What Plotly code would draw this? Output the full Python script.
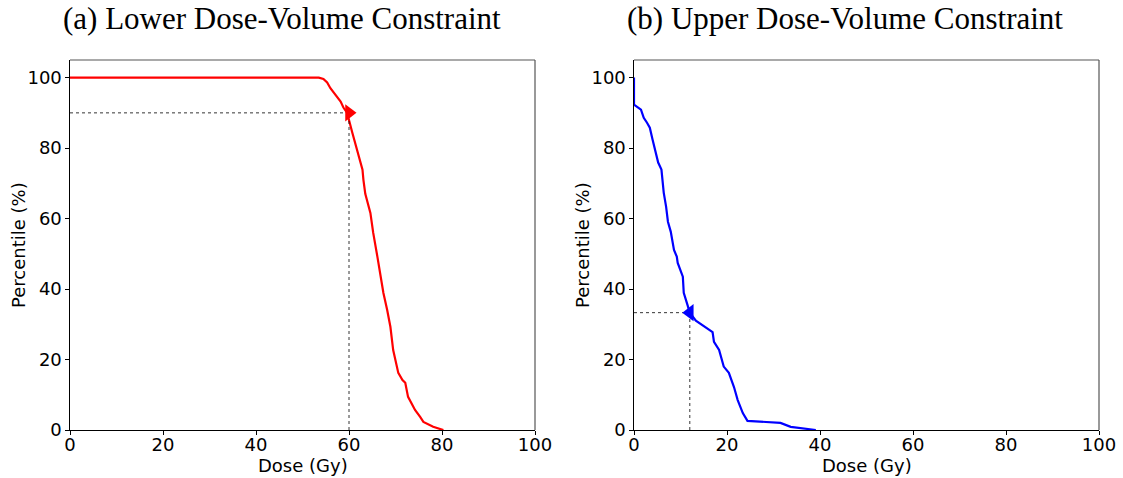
import plotly.graph_objects as go
from plotly.subplots import make_subplots

# Lower constraint DVH (red)
lower_dose = [0, 53.5, 54.5, 55.3, 56.0, 57.1, 58.2, 58.8, 59.6, 60.7, 61.8, 62.9, 63.1, 63.5, 64.6, 65.2,
              66.1, 66.7, 67.4, 68.2, 68.9, 69.5, 70.6, 71.5, 72.1, 72.7, 74.2, 75.3, 76.0, 78.1, 80.3]
lower_pct = [100, 100, 99.6, 98.6, 97.0, 95.2, 93.2, 91.5, 90.0, 84.4, 79.5, 73.9, 71.0, 67.0, 61.6, 56.0,
             49.2, 44.6, 38.9, 34.1, 29.3, 22.7, 16.2, 14.2, 13.4, 9.4, 5.7, 3.7, 2.3, 0.9, 0]

# Upper constraint DVH (blue)
upper_dose = [0, 0, 1.5, 2.1, 2.8, 3.4, 4.0, 4.7, 5.2, 5.9, 6.4, 6.9, 7.3, 7.9, 8.6, 9.2, 9.4,
              10.5, 10.7, 11.5, 12.0, 13.3, 16.9, 17.2, 18.3, 19.3, 20.4, 21.5, 22.3, 23.4,
              24.4, 31.5, 33.7, 39.1]
upper_pct = [100, 92.3, 90.9, 88.6, 87.2, 85.8, 82.4, 78.1, 75.9, 73.9, 67.3, 63.4, 59.1, 56.3,
             51.1, 49.2, 47.4, 43.5, 38.9, 35.5, 33.3, 31.0, 27.8, 25.0, 22.7, 18.0, 16.2, 12.2,
             8.5, 4.8, 2.6, 2.0, 0.9, 0]

lower_marker = (60, 90)
upper_marker = (12, 33.3)

titles = ["(a) Lower Dose-Volume Constraint", "(b) Upper Dose-Volume Constraint"]
x_label = "Dose (Gy)"
y_label = "Percentile (%)"
x_ticks = [0, 20, 40, 60, 80, 100]
y_ticks = [0, 20, 40, 60, 80, 100]

W, H = 1123, 478
x_doms = [(70 / W, 535 / W), (634 / W, 1099 / W)]
y_dom = (1 - 430 / H, 1 - 60 / H)
title_cx = [282 / W, 845 / W]

fig = make_subplots(rows=1, cols=2)

fig.add_trace(go.Scatter(x=lower_dose, y=lower_pct, mode="lines",
                         line=dict(color="#ff0000", width=2.2), showlegend=False), 1, 1)
fig.add_trace(go.Scatter(x=upper_dose, y=upper_pct, mode="lines",
                         line=dict(color="#0000ff", width=2.2), showlegend=False), 1, 2)

for (mx, my), col, sym, c in [(lower_marker, 1, "triangle-right", "#ff0000"),
                              (upper_marker, 2, "triangle-left", "#0000ff")]:
    fig.add_trace(go.Scatter(x=[0, mx], y=[my, my], mode="lines",
                             line=dict(color="black", width=0.8, dash="dot"), showlegend=False), 1, col)
    fig.add_trace(go.Scatter(x=[mx, mx], y=[0, my], mode="lines",
                             line=dict(color="black", width=0.8, dash="dot"), showlegend=False), 1, col)
    fig.add_trace(go.Scatter(x=[mx], y=[my], mode="markers",
                             marker=dict(symbol=sym, size=15, color=c), showlegend=False), 1, col)

axis_common = dict(showgrid=False, zeroline=False, showline=True, linecolor="black", linewidth=1.2,
                   mirror=False, ticks="outside", ticklen=3.5, tickwidth=1, tickcolor="black",
                   automargin=False,
                   tickfont=dict(family="DejaVu Sans", size=18, color="black"))

fig.update_xaxes(range=[0, 100], tickvals=x_ticks, ticklabelstandoff=-5, **axis_common)
fig.update_yaxes(range=[0, 105], tickvals=y_ticks, **axis_common)

fig.update_layout(
    xaxis=dict(domain=list(x_doms[0])),
    xaxis2=dict(domain=list(x_doms[1])),
    yaxis=dict(domain=list(y_dom)),
    yaxis2=dict(domain=list(y_dom)),
    width=W, height=H, margin=dict(l=0, r=0, t=0, b=0),
    plot_bgcolor="white", paper_bgcolor="white",
)

# top/right frame lines (lighter like the reference)
for (x0, x1) in x_doms:
    fig.add_shape(type="line", xref="paper", yref="paper", x0=x0, x1=x1, y0=y_dom[1], y1=y_dom[1],
                  line=dict(color="#555555", width=1.2))
    fig.add_shape(type="line", xref="paper", yref="paper", x0=x1, x1=x1, y0=y_dom[0], y1=y_dom[1],
                  line=dict(color="#555555", width=1.2))

for (x0, x1), t, tcx in zip(x_doms, titles, title_cx):
    cx = (x0 + x1) / 2
    fig.add_annotation(x=tcx, y=1 - 18 / H, xref="paper", yref="paper", text=t, showarrow=False,
                       font=dict(family="Liberation Serif", size=31, color="black"),
                       xanchor="center", yanchor="middle")
    fig.add_annotation(x=cx, y=1 - 465 / H, xref="paper", yref="paper", text=x_label, showarrow=False,
                       font=dict(family="DejaVu Sans", size=18, color="black"),
                       xanchor="center", yanchor="middle")
    fig.add_annotation(x=x0 - 52 / W, y=(y_dom[0] + y_dom[1]) / 2, xref="paper", yref="paper",
                       text=y_label, showarrow=False, textangle=-90,
                       font=dict(family="DejaVu Sans", size=18, color="black"),
                       xanchor="center", yanchor="middle")

fig.write_html("out.html")
